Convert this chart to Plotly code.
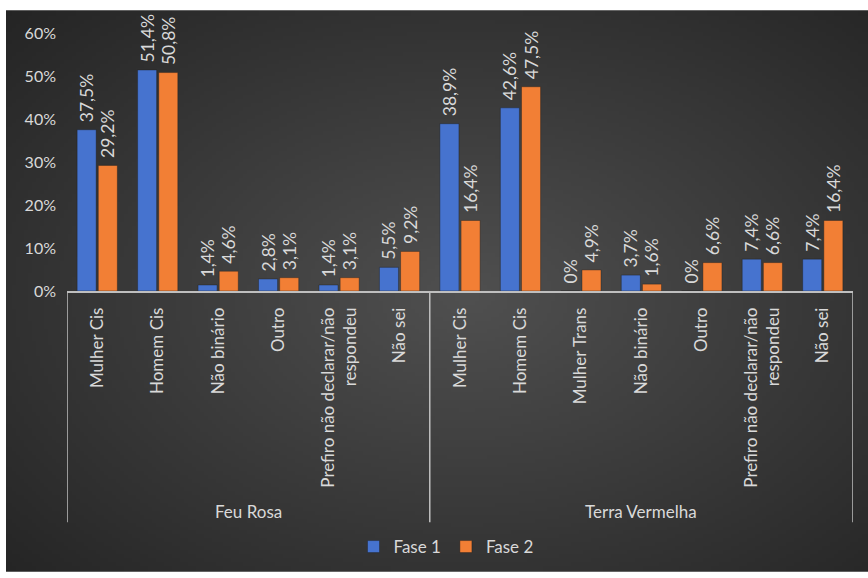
import base64
import struct
import zlib

import numpy as np
import plotly.graph_objects as go

# ---- data -------------------------------------------------------------
grupos = ["Feu Rosa", "Terra Vermelha"]
bairros = ["Feu Rosa"] * 6 + ["Terra Vermelha"] * 7
identidades = [
    "Mulher Cis", "Homem Cis", "Não binário", "Outro",
    "Prefiro não declarar/não<br>respondeu", "Não sei",
    "Mulher Cis", "Homem Cis", "Mulher Trans", "Não binário", "Outro",
    "Prefiro não declarar/não<br>respondeu", "Não sei",
]
fase1 = [37.5, 51.4, 1.4, 2.8, 1.4, 5.5, 38.9, 42.6, 0, 3.7, 0, 7.4, 7.4]
fase2 = [29.2, 50.8, 4.6, 3.1, 3.1, 9.2, 16.4, 47.5, 4.9, 1.6, 6.6, 6.6, 16.4]
y_ticks = [0, 10, 20, 30, 40, 50, 60]

BLUE = "#4673cf"
ORANGE = "#f27f35"
TEXT = "#d9d9d9"
LINE = "#bfbfbf"
FONT = "Lato"

W, H = 868, 578
M_L, M_R, M_T, M_B = 67, 15, 33, 284
pw = W - M_L - M_R
ph = H - M_T - M_B


def pct(v):
    # a leading no-break space lifts the rotated label a little off the bar
    s = "0%" if v == 0 else f"{v:.1f}".replace(".", ",") + "%"
    return "\u00a0" + s


def radial_png(w, h, cx, cy, inner, outer):
    """Small PNG with a radial grey gradient, returned as a data URI."""
    yy, xx = np.mgrid[0:h, 0:w]
    d = np.sqrt(((xx - cx) / w) ** 2 + ((yy - cy) / h) ** 2)
    t = np.clip(d / 0.75, 0, 1)
    inner = np.array(inner, float)
    outer = np.array(outer, float)
    img = inner[None, None, :] * (1 - t[..., None]) + outer[None, None, :] * t[..., None]
    img = img.astype(np.uint8)
    raw = b"".join(b"\x00" + img[r].tobytes() for r in range(h))

    def chunk(tag, data):
        c = struct.pack(">I", len(data)) + tag + data
        return c + struct.pack(">I", zlib.crc32(tag + data) & 0xFFFFFFFF)

    png = b"\x89PNG\r\n\x1a\n"
    png += chunk(b"IHDR", struct.pack(">IIBBBBB", w, h, 8, 2, 0, 0, 0))
    png += chunk(b"IDAT", zlib.compress(raw, 9))
    png += chunk(b"IEND", b"")
    return "data:image/png;base64," + base64.b64encode(png).decode()


pos = list(range(len(identidades)))

fig = go.Figure()
for name, vals, color in (("Fase 1", fase1, BLUE), ("Fase 2", fase2, ORANGE)):
    fig.add_trace(go.Bar(
        name=name, x=pos, y=vals, marker_color=color,
        marker_line=dict(color="rgba(30,30,30,0.5)", width=0.8),
        text=[pct(v) for v in vals], textposition="outside", textangle=-90,
        textfont=dict(color=TEXT, size=17.5, family=FONT), cliponaxis=False,
        constraintext="none", customdata=bairros,
    ))

# background panel with radial gradient (white strip at top/left)
x0_px, y0_px = 6, 10
bg = radial_png(216, 142, 115, 72, (80, 80, 80), (36, 36, 36))
fig.add_layout_image(
    source=bg, xref="paper", yref="paper",
    x=(x0_px - M_L) / pw, y=(H - M_B - y0_px) / ph,
    sizex=(W - x0_px) / pw, sizey=(H - y0_px) / ph,
    xanchor="left", yanchor="top", sizing="stretch", layer="below",
)

# group dividers and group labels under the category labels
div_bottom = (H - M_B - 528) / ph
label_y = (H - M_B - 517) / ph
bounds = [-0.5]
for g in grupos:
    bounds.append(bounds[-1] + bairros.count(g))
for b in bounds:
    fig.add_shape(type="line", xref="x", yref="paper", x0=b, x1=b,
                  y0=0, y1=div_bottom, line=dict(color=LINE, width=1.5))
for g, a, b in zip(grupos, bounds[:-1], bounds[1:]):
    fig.add_annotation(text=g, xref="x", yref="paper", x=(a + b) / 2, y=label_y,
                       showarrow=False, yanchor="middle",
                       font=dict(size=17, color=TEXT, family=FONT))

fig.update_layout(
    width=W, height=H,
    margin=dict(l=M_L, r=M_R, t=M_T, b=M_B),
    paper_bgcolor="white", plot_bgcolor="rgba(0,0,0,0)",
    font=dict(family=FONT, color=TEXT, size=16),
    barmode="group", bargap=0.3, bargroupgap=0.1,
    showlegend=True,
    legend=dict(
        orientation="h", x=(446 - M_L) / pw, xanchor="center",
        y=(H - M_B - 553) / ph, yanchor="middle",
        font=dict(size=17, color=TEXT, family=FONT),
        bgcolor="rgba(0,0,0,0)", itemwidth=30,
    ),
)
fig.update_xaxes(
    range=[-0.5, len(identidades) - 0.5], tickmode="array", tickvals=pos,
    ticktext=identidades, tickangle=-90, showline=True, linecolor=LINE,
    linewidth=1.5, showgrid=False, zeroline=False, ticks="",
    ticklabelstandoff=8,
    tickfont=dict(size=17, color=TEXT, family=FONT), automargin=False,
)
fig.update_yaxes(
    range=[0, 60], tickmode="array", tickvals=y_ticks,
    ticktext=[f"{v}%" for v in y_ticks], showgrid=False,
    zeroline=False, showline=False, ticklabelstandoff=10,
    tickfont=dict(size=16, color=TEXT, family=FONT), automargin=False,
)

fig.write_html("out.html")
